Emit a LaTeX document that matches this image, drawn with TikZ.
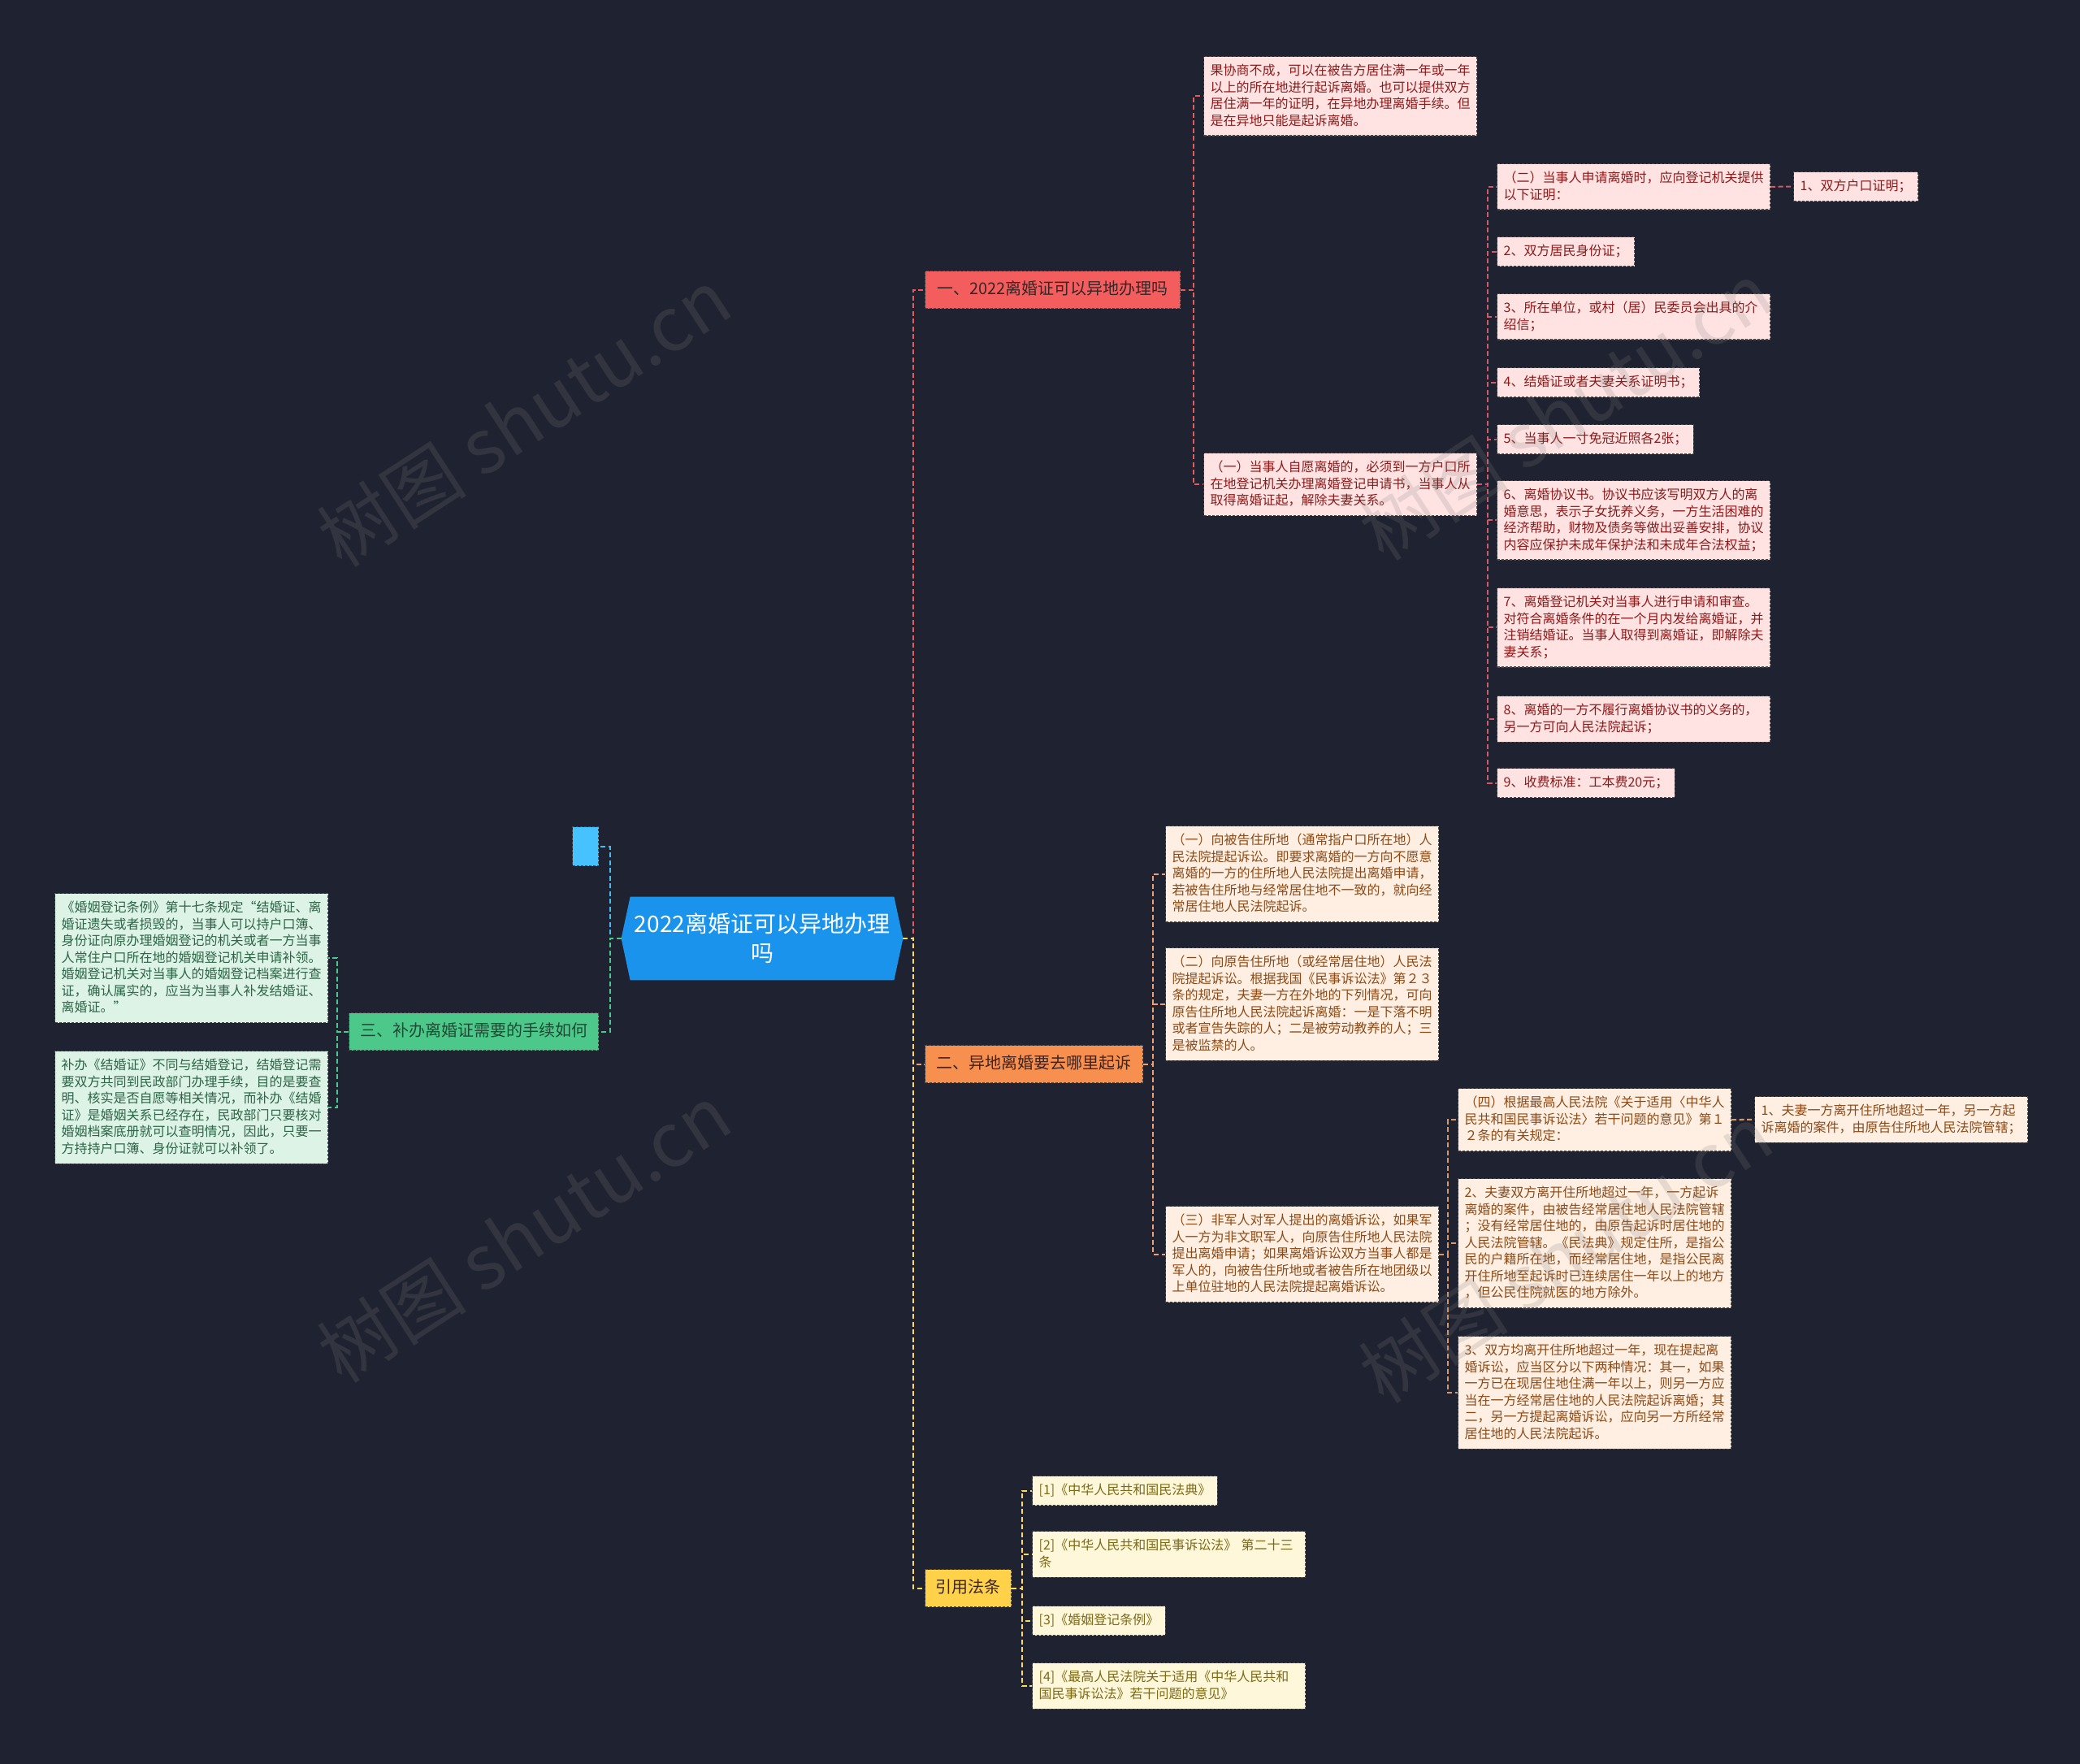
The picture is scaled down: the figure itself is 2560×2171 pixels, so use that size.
\documentclass[tikz,border=0pt]{standalone}
\usepackage{fontspec}
\setmainfont{Noto Sans CJK SC}
\usetikzlibrary{calc,backgrounds}
\definecolor{bgc}{HTML}{1F2230}
\definecolor{rootblue}{HTML}{1A93EC}
\definecolor{redlab}{HTML}{F45D5D}
\definecolor{orangelab}{HTML}{F7904F}
\definecolor{yellowlab}{HTML}{FFD24A}
\definecolor{greenlab}{HTML}{4CC98A}
\definecolor{bluelab}{HTML}{45C2FF}
\definecolor{labtext}{HTML}{3A2424}
\definecolor{greentext}{HTML}{1E4A33}
\definecolor{pinkfill}{HTML}{FFE3E3}
\definecolor{pinktext}{HTML}{8B1A1A}
\definecolor{peachfill}{HTML}{FFEFE2}
\definecolor{peachtext}{HTML}{8A4A17}
\definecolor{mintfill}{HTML}{DDF3E6}
\definecolor{minttext}{HTML}{2B6446}
\definecolor{creamfill}{HTML}{FFF7D9}
\definecolor{creamtext}{HTML}{7A6A1A}
\definecolor{lred}{HTML}{E85A5A}
\definecolor{lredsub}{HTML}{D05A66}
\definecolor{lorange}{HTML}{F0A070}
\definecolor{lorangesub}{HTML}{D89868}
\definecolor{lyellow}{HTML}{FFD75A}
\definecolor{lgreen}{HTML}{4CC98A}
\definecolor{lblue}{HTML}{45BCEE}
\definecolor{boxline}{HTML}{4A4A4A}

\newcommand{\strA}{\rule[-2pt]{0pt}{9pt}}
\newcommand{\strB}{\rule[-2.5pt]{0pt}{11pt}}

\tikzset{
  boxed/.style={anchor=north west, draw=boxline, line width=0.6pt, dash pattern=on 1.5pt off 1pt},
  sbox/.style={boxed, inner xsep=4pt, inner ysep=4.5pt, align=left, font=\fontsize{8}{10.25}\selectfont, execute at begin node=\strA, execute at end node=\strA},
  wbox/.style={sbox, text width=160pt},
  pinkb/.style={fill=pinkfill, text=pinktext},
  peachb/.style={fill=peachfill, text=peachtext},
  mintb/.style={fill=mintfill, text=minttext},
  creamb/.style={fill=creamfill, text=creamtext},
  lab/.style={boxed, inner xsep=0pt, inner ysep=6pt, align=center, text=labtext, font=\fontsize{10}{12}\selectfont, execute at begin node=\strB, execute at end node=\strB},
  conn/.style={line width=1pt, dash pattern=on 3pt off 1.75pt},
  wmark/.style={rotate=33, text=gray, opacity=0.2, font=\fontsize{46}{46}\selectfont},
}

\begin{document}
\begin{tikzpicture}[x=0.5pt,y=-0.5pt]
\useasboundingbox (0,0) rectangle (2560,2171);

% root
\node[minimum width=173pt, minimum height=51pt, inner sep=0pt, align=center, text=white, font=\fontsize{14}{18}\selectfont] (root) at (938,1155) {2022离婚证可以异地办理\\吗};

% branch labels
\node[lab, fill=redlab, minimum width=157pt] (b1) at (1138,333) {一、2022离婚证可以异地办理吗};
\node[lab, fill=orangelab, minimum width=134pt] (b2) at (1138,1286) {二、异地离婚要去哪里起诉};
\node[lab, fill=greenlab, text=greentext, minimum width=153.5pt] (b3) at (429,1246) {三、补办离婚证需要的手续如何};
\node[lab, fill=yellowlab, minimum width=53pt] (b4) at (1138,1931) {引用法条};
\node[boxed, fill=bluelab, minimum width=16pt, minimum height=24pt, inner sep=0pt] (bl) at (704,1017) {};

% branch 1
\node[wbox, pinkb] (t0) at (1481,69) {果协商不成，可以在被告方居住满一年或一年\\以上的所在地进行起诉离婚。也可以提供双方\\居住满一年的证明，在异地办理离婚手续。但\\是在异地只能是起诉离婚。};
\node[wbox, pinkb] (a1) at (1481,557) {（一）当事人自愿离婚的，必须到一方户口所\\在地登记机关办理离婚登记申请书，当事人从\\取得离婚证起，解除夫妻关系。};
\node[wbox, pinkb] (c0) at (1842,201) {（二）当事人申请离婚时，应向登记机关提供\\以下证明：};
\node[sbox, pinkb] (c0a) at (2207,211) {1、双方户口证明；};
\node[sbox, pinkb] (c2) at (1842,291) {2、双方居民身份证；};
\node[wbox, pinkb] (c3) at (1842,361) {3、所在单位，或村（居）民委员会出具的介\\绍信；};
\node[sbox, pinkb] (c4) at (1842,452) {4、结婚证或者夫妻关系证明书；};
\node[sbox, pinkb] (c5) at (1842,522) {5、当事人一寸免冠近照各2张；};
\node[wbox, pinkb] (c6) at (1842,591) {6、离婚协议书。协议书应该写明双方人的离\\婚意思，表示子女抚养义务，一方生活困难的\\经济帮助，财物及债务等做出妥善安排，协议\\内容应保护未成年保护法和未成年合法权益；};
\node[wbox, pinkb] (c7) at (1842,723) {7、离婚登记机关对当事人进行申请和审查。\\对符合离婚条件的在一个月内发给离婚证，并\\注销结婚证。当事人取得到离婚证，即解除夫\\妻关系；};
\node[wbox, pinkb] (c8) at (1842,856) {8、离婚的一方不履行离婚协议书的义务的，\\另一方可向人民法院起诉；};
\node[sbox, pinkb] (c9) at (1842,945) {9、收费标准：工本费20元；};

% branch 2
\node[wbox, peachb] (d1) at (1434,1016) {（一）向被告住所地（通常指户口所在地）人\\民法院提起诉讼。即要求离婚的一方向不愿意\\离婚的一方的住所地人民法院提出离婚申请，\\若被告住所地与经常居住地不一致的，就向经\\常居住地人民法院起诉。};
\node[wbox, peachb] (d2) at (1434,1166) {（二）向原告住所地（或经常居住地）人民法\\院提起诉讼。根据我国《民事诉讼法》第２３\\条的规定，夫妻一方在外地的下列情况，可向\\原告住所地人民法院起诉离婚：一是下落不明\\或者宣告失踪的人；二是被劳动教养的人；三\\是被监禁的人。};
\node[wbox, peachb] (d3) at (1434,1484) {（三）非军人对军人提出的离婚诉讼，如果军\\人一方为非文职军人，向原告住所地人民法院\\提出离婚申请；如果离婚诉讼双方当事人都是\\军人的，向被告住所地或者被告所在地团级以\\上单位驻地的人民法院提起离婚诉讼。};
\node[wbox, peachb] (e1) at (1794,1339) {（四）根据最高人民法院《关于适用〈中华人\\民共和国民事诉讼法〉若干问题的意见》第１\\２条的有关规定：};
\node[wbox, peachb] (e1a) at (2159,1349) {1、夫妻一方离开住所地超过一年，另一方起\\诉离婚的案件，由原告住所地人民法院管辖；};
\node[wbox, peachb] (e2) at (1794,1450) {2、夫妻双方离开住所地超过一年，一方起诉\\离婚的案件，由被告经常居住地人民法院管辖\\；没有经常居住地的，由原告起诉时居住地的\\人民法院管辖。《民法典》规定住所，是指公\\民的户籍所在地，而经常居住地，是指公民离\\开住所地至起诉时已连续居住一年以上的地方\\，但公民住院就医的地方除外。};
\node[wbox, peachb] (e3) at (1794,1644) {3、双方均离开住所地超过一年，现在提起离\\婚诉讼，应当区分以下两种情况：其一，如果\\一方已在现居住地住满一年以上，则另一方应\\当在一方经常居住地的人民法院起诉离婚；其\\二，另一方提起离婚诉讼，应向另一方所经常\\居住地的人民法院起诉。};

% branch 4
\node[sbox, creamb] (r1) at (1270,1816) {[1]《中华人民共和国民法典》};
\node[wbox, creamb] (r2) at (1270,1884) {[2]《中华人民共和国民事诉讼法》 第二十三\\条};
\node[sbox, creamb] (r3) at (1270,1976) {[3]《婚姻登记条例》};
\node[wbox, creamb] (r4) at (1270,2046) {[4]《最高人民法院关于适用《中华人民共和\\国民事诉讼法》若干问题的意见》};

% branch 3
\node[wbox, mintb] (l1) at (67,1099) {《婚姻登记条例》第十七条规定“结婚证、离\\婚证遗失或者损毁的，当事人可以持户口簿、\\身份证向原办理婚姻登记的机关或者一方当事\\人常住户口所在地的婚姻登记机关申请补领。\\婚姻登记机关对当事人的婚姻登记档案进行查\\证，确认属实的，应当为当事人补发结婚证、\\离婚证。”};
\node[wbox, mintb] (l2) at (67,1293) {补办《结婚证》不同与结婚登记，结婚登记需\\要双方共同到民政部门办理手续，目的是要查\\明、核实是否自愿等相关情况，而补办《结婚\\证》是婚姻关系已经存在，民政部门只要核对\\婚姻档案底册就可以查明情况，因此，只要一\\方持持户口簿、身份证就可以补领了。};

\begin{pgfonlayer}{background}
\fill[bgc] (0,0) rectangle (2560,2171);
\fill[rootblue] ($(root.north west)+(11,0)$) -- ($(root.north east)+(-11,0)$) -- (root.east) -- ($(root.south east)+(-11,0)$) -- ($(root.south west)+(11,0)$) -- (root.west) -- cycle;
\end{pgfonlayer}

% connectors
\draw[conn, lred] (root.east) -- ++(13,0) |- (b1.west);
\draw[conn, lorange] (root.east) -- ++(13,0) |- (b2.west);
\draw[conn, lyellow] (root.east) -- ++(13,0) |- (b4.west);
\draw[conn, lblue] (root.west) -- ++(-14,0) |- (bl.east);
\draw[conn, lgreen] (root.west) -- ++(-14,0) |- (b3.east);

\foreach \n in {t0,a1} \draw[conn, lred] (b1.east) -- ++(16,0) |- (\n.west);
\foreach \n in {c0,c2,c3,c4,c5,c6,c7,c8,c9} \draw[conn, lredsub] (a1.east) -- ++(13,0) |- (\n.west);
\draw[conn, lredsub] (c0.east) -- (c0a.west);

\foreach \n in {d1,d2,d3} \draw[conn, lorange] (b2.east) -- ++(12,0) |- (\n.west);
\foreach \n in {e1,e2,e3} \draw[conn, lorangesub] (d3.east) -- ++(11,0) |- (\n.west);
\draw[conn, lorangesub] (e1.east) -- (e1a.west);

\foreach \n in {r1,r2,r3,r4} \draw[conn, lyellow] (b4.east) -- ++(13,0) |- (\n.west);
\foreach \n in {l1,l2} \draw[conn, lgreen] (b3.west) -- ++(-14,0) |- (\n.east);

% watermarks
\node[wmark] (wm1) at (645,514) {树图 shutu.cn};
\node[wmark] (wm2) at (1927,506) {树图 shutu.cn};
\node[wmark] (wm3) at (645,1518) {树图 shutu.cn};
\node[wmark] (wm4) at (1927,1543) {树图 shutu.cn};
\end{tikzpicture}
\end{document}
